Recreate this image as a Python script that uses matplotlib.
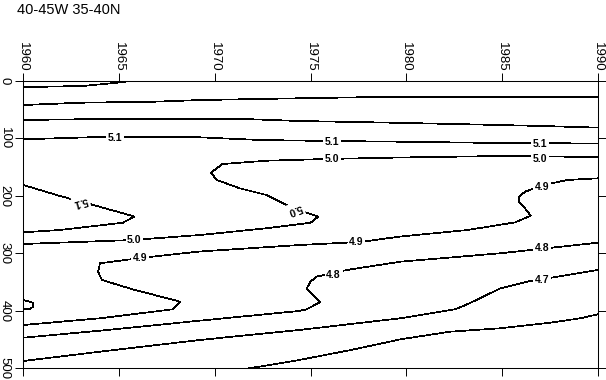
import matplotlib
matplotlib.use('Agg')
import matplotlib.pyplot as plt

# isolines (year, depth in m)
iso54_year = [1960, 1963.1, 1964.7, 1965.6, 1966.5, 1967.5]
iso54_depth = [11, 9, 4, 0.5, 0.5, 0]

iso53_year = [1960, 1963.0, 1966.9, 1969.3, 1974.4, 1979.4, 1990]
iso53_depth = [42.1, 38.1, 36.3, 33.4, 30.4, 27.7, 27.7]

iso52_year = [1960, 1963.0, 1971.9, 1974.4, 1979.0, 1983.0, 1987.1, 1990]
iso52_depth = [68.1, 66.9, 66.9, 69.9, 72.7, 75.5, 78.6, 81.4]

iso51_year = [1960, 1964.0, 1969.2, 1972.4, 1976.0, 1979.7, 1984.9, 1990]
iso51_depth = [101.7, 97.7, 98.3, 103.0, 104.7, 105.9, 108.2, 109.0]

# 5.1 tongue at the left edge
iso51b_year = [1960, 1961.9, 1963.0, 1963.65, 1965.8, 1965.2, 1961.9, 1960]
iso51b_depth = [181.2, 200.3, 209.9, 216.0, 236.0, 246.8, 259.5, 263.5]

iso50_year = [1960, 1965.7, 1969.2, 1972.7, 1975.0, 1975.4, 1974.0, 1972.7,
              1971.3, 1970.1, 1969.8, 1970.4, 1972.7, 1975.8, 1979.7, 1984.9, 1990]
iso50_depth = [283.8, 276.9, 268.2, 256.5, 246.8, 236.3, 220.0, 198.6,
               187.0, 172.5, 159.8, 144.7, 139.0, 136.0, 133.4, 130.8, 132.5]

# small 5.0 patch at the left edge
iso50b_year = [1960, 1960.5, 1960.5, 1960.35, 1960]
iso50b_depth = [381.2, 385.9, 392.9, 396.9, 396.9]

iso49_year = [1960, 1964.0, 1967.8, 1968.2, 1965.7, 1964.1, 1963.9, 1964.0,
              1966.1, 1969.2, 1974.4, 1977.6, 1979.7, 1983.2, 1985.7, 1986.5,
              1986.2, 1985.9, 1985.9, 1986.2, 1987.2, 1988.4, 1990]
iso49_depth = [424.7, 413.0, 397.4, 384.2, 362.6, 346.4, 332.0, 317.4,
               308.2, 296.9, 285.6, 280.3, 270.8, 259.5, 246.1, 234.6,
               221.7, 210.3, 201.6, 192.9, 181.2, 172.5, 169.6]

iso48_year = [1960, 1964.0, 1969.2, 1974.4, 1974.8, 1975.5, 1975.2, 1974.8,
              1975.0, 1975.3, 1976.9, 1979.7, 1984.9, 1990]
iso48_depth = [446.8, 434.6, 417.2, 400.3, 397.4, 384.7, 375.5, 360.9,
               349.4, 340.7, 329.0, 314.6, 300.0, 281.6]

iso47_year = [1960, 1964.0, 1969.2, 1974.4, 1979.7, 1982.6, 1983.3, 1984.9, 1986.3, 1990]
iso47_depth = [487.3, 471.1, 450.8, 433.4, 413.0, 396.9, 387.0, 361.2, 349.4, 329.0]

iso46_year = [1971.8, 1974.4, 1977.1, 1979.7, 1982.3, 1984.9, 1987.5, 1989.1, 1990]
iso46_depth = [500, 485.6, 468.2, 449.6, 436.3, 430.4, 420.7, 413.0, 406.1]

year_ticks = [1960, 1965, 1970, 1975, 1980, 1985, 1990]
depth_ticks = [0, 100, 200, 300, 400, 500]

plt.rcParams['font.family'] = ['Liberation Sans', 'DejaVu Sans']

fig = plt.figure(figsize=(6.06, 3.80), dpi=100)
ax = fig.add_axes([23.4 / 606, 1 - 368.3 / 380, 574.3 / 606, 287.5 / 380])

isolines = [
    (iso54_year, iso54_depth), (iso53_year, iso53_depth), (iso52_year, iso52_depth),
    (iso51_year, iso51_depth), (iso51b_year, iso51b_depth), (iso50_year, iso50_depth),
    (iso50b_year, iso50b_depth), (iso49_year, iso49_depth), (iso48_year, iso48_depth),
    (iso47_year, iso47_depth), (iso46_year, iso46_depth),
]
for yrs, dep in isolines:
    ax.plot(yrs, dep, color='black', lw=0.5, antialiased=False, zorder=2)

# inline contour labels (text, year, depth, rotation)
etiquettes = [
    ('5.1', 1964.8, 99.0, 0), ('5.1', 1976.1, 105.9, 0), ('5.1', 1987.0, 109.9, 0),
    ('5.0', 1976.1, 136.0, 0), ('5.0', 1987.0, 136.0, 0), ('4.9', 1987.1, 184.2, 0),
    ('5.1', 1963.0, 210.3, 195), ('5.0', 1974.2, 223.5, 200),
    ('5.0', 1965.8, 276.9, 0), ('4.9', 1966.1, 308.7, 0), ('4.9', 1977.4, 279.8, 0),
    ('4.8', 1976.2, 337.7, 0), ('4.8', 1987.1, 291.3, 0), ('4.7', 1987.1, 346.4, 0),
]
for txt, x, y, rot in etiquettes:
    ax.text(x, y, txt, fontsize=7.5, fontweight='bold', ha='center', va='center',
            rotation=rot, zorder=3,
            bbox=dict(facecolor='white', edgecolor='none', pad=1.2))

ax.set_xlim(1960, 1990)
ax.set_ylim(500, 0)
ax.set_xticks(year_ticks)
ax.set_xticklabels([str(y) for y in year_ticks], rotation=270, fontsize=9.5)
ax.set_yticks(depth_ticks)
ax.set_yticklabels([str(d) for d in depth_ticks], rotation=270, fontsize=9.5, va='center')
ax.tick_params(axis='x', top=True, bottom=True, labeltop=True, labelbottom=False,
               direction='out', length=5.8, width=0.7, pad=1)
ax.tick_params(axis='y', left=True, right=True, labelleft=True, labelright=False,
               direction='out', length=5.8, width=0.7, pad=3.5)
for sp in ax.spines.values():
    sp.set_linewidth(0.75)

fig.text(17 / 606, 1 - 14 / 380, '40-45W 35-40N', fontsize=10.5, va='baseline', ha='left')

fig.savefig('out.png', dpi=100)
